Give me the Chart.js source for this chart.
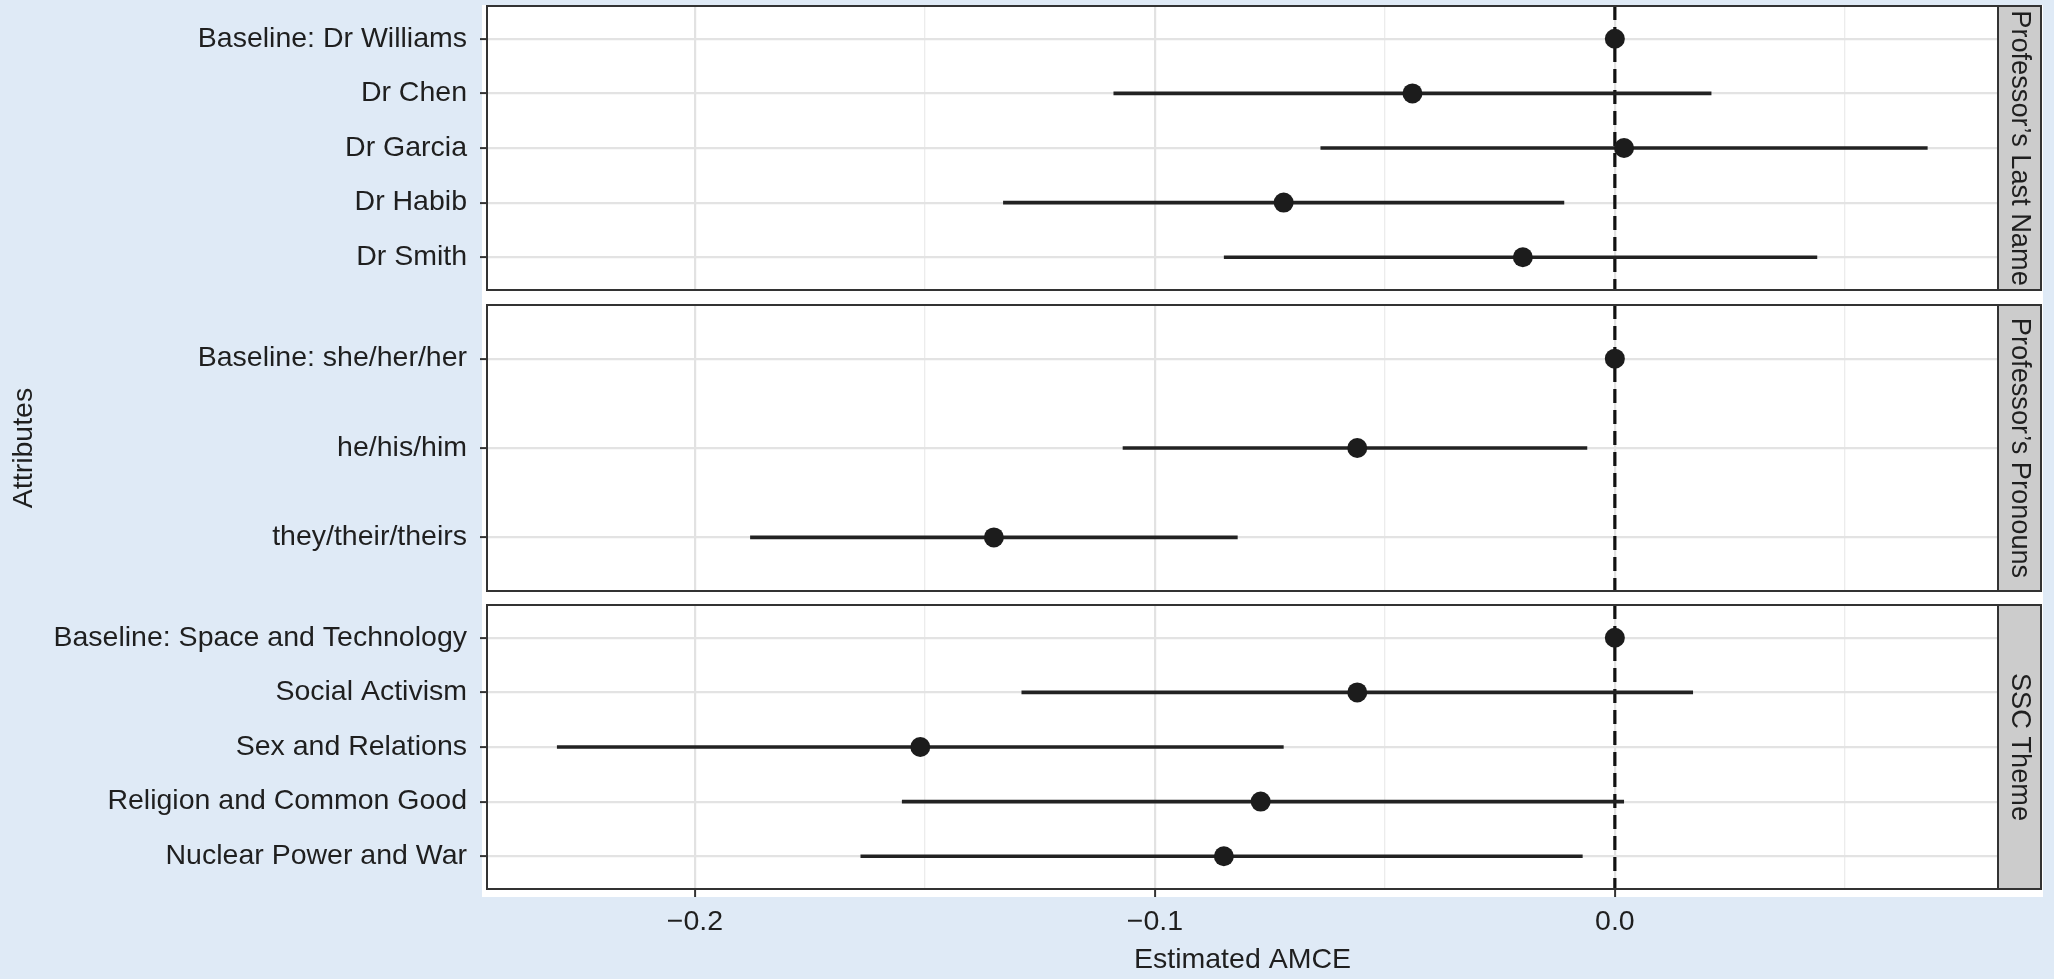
<!DOCTYPE html>
<html>
<head>
<meta charset="utf-8">
<title>Estimated AMCE by attribute</title>
<script src="https://cdn.jsdelivr.net/npm/chart.js@4.4.1/dist/chart.umd.min.js"></script>
<style>
  body { margin: 0; background: #dfeaf6; }
  #wrap { position: relative; width: 2054px; height: 979px; background: #dfeaf6; overflow: hidden; }
  #paper { position: absolute; left: 482px; top: 5px; width: 1561px; height: 892px; background: #fff; }
  canvas { position: absolute; left: 0; }
</style>
</head>
<body>
<div id="wrap">
  <div id="paper"></div>
  <canvas id="panelName" width="2054" height="300" style="top:0px"></canvas>
  <canvas id="panelPronoun" width="2054" height="300" style="top:300px"></canvas>
  <canvas id="panelTheme" width="2054" height="379" style="top:600px"></canvas>
</div>
<script>
// values
const nameLabels = ['Baseline: Dr Williams', 'Dr Chen', 'Dr Garcia', 'Dr Habib', 'Dr Smith'];
const nameEst = [0, -0.044, 0.002, -0.072, -0.020];
const nameLow = [null, -0.109, -0.064, -0.133, -0.085];
const nameHigh = [null, 0.021, 0.068, -0.011, 0.044];

const pronounLabels = ['Baseline: she/her/her', 'he/his/him', 'they/their/theirs'];
const pronounEst = [0, -0.056, -0.135];
const pronounLow = [null, -0.107, -0.188];
const pronounHigh = [null, -0.006, -0.082];

const themeLabels = ['Baseline: Space and Technology', 'Social Activism', 'Sex and Relations',
  'Religion and Common Good', 'Nuclear Power and War'];
const themeEst = [0, -0.056, -0.151, -0.077, -0.085];
const themeLow = [null, -0.129, -0.230, -0.155, -0.164];
const themeHigh = [null, 0.017, -0.072, 0.002, -0.007];

const stripTitles = ['Professor’s Last Name', 'Professor’s Pronouns', 'SSC Theme'];
const xMajor = [-0.2, -0.1, 0.0];
const xMinor = [-0.15, -0.05, 0.05];
const xMin = -0.2452;
const xMax = 0.0833;
const xTitle = 'Estimated AMCE';
const yTitle = 'Attributes';

const FONT = '"Liberation Sans", Arial, Helvetica, sans-serif';
const INK = '#1f1f1f';
Chart.defaults.font.family = FONT;
Chart.defaults.color = INK;

function fmtTick(v) {
    if (Math.abs(v) < 1e-9) return '0.0';
    return (v < 0 ? '\u2212' : '') + Math.abs(v).toFixed(1);
}
function isMajor(v) {
    return xMajor.some(m => Math.abs(m - v) < 1e-9);
}

// panel frame, strip on the right, dashed zero line
const facetPlugin = {
    id: 'facet',
    beforeDatasetsDraw(chart) {
        const { ctx, chartArea } = chart;
        const x0 = chart.scales.x.getPixelForValue(0);
        ctx.save();
        ctx.strokeStyle = '#111';
        ctx.lineWidth = 3.2;
        ctx.setLineDash([14, 7]);
        ctx.beginPath();
        ctx.moveTo(x0, chartArea.top);
        ctx.lineTo(x0, chartArea.bottom);
        ctx.stroke();
        ctx.restore();
    },
    afterDraw(chart, args, opts) {
        const { ctx, chartArea } = chart;
        const h = chartArea.bottom - chartArea.top;
        ctx.save();
        ctx.strokeStyle = '#333';
        ctx.lineWidth = 2;
        ctx.strokeRect(chartArea.left, chartArea.top, chartArea.right - chartArea.left, h);
        // strip
        const sx = chartArea.right;
        ctx.fillStyle = '#cccccc';
        ctx.fillRect(sx, chartArea.top, 43, h);
        ctx.strokeRect(sx, chartArea.top, 43, h);
        ctx.translate(sx + 22, chartArea.top + h / 2);
        ctx.rotate(Math.PI / 2);
        ctx.fillStyle = INK;
        ctx.font = '27.2px ' + FONT;
        ctx.textAlign = 'center';
        ctx.textBaseline = 'middle';
        ctx.fillText(opts.title, 0, 1);
        ctx.restore();
        if (opts.yTitle) {
            ctx.save();
            ctx.translate(24, chartArea.top + h / 2);
            ctx.rotate(-Math.PI / 2);
            ctx.fillStyle = INK;
            ctx.font = '28.5px ' + FONT;
            ctx.textAlign = 'center';
            ctx.textBaseline = 'middle';
            ctx.fillText(opts.yTitle, 0, 0);
            ctx.restore();
        }
    }
};

function makePanel(id, labels, est, low, high, strip, cfg) {
    const datasets = [{
        data: est.map((v, i) => ({ x: v, y: i })),
        pointRadius: 10,
        pointBackgroundColor: '#1c1c1c',
        pointBorderWidth: 0,
        order: 0
    }];
    labels.forEach((l, i) => {
        if (low[i] === null) return;
        datasets.push({
            data: [{ x: low[i], y: i }, { x: high[i], y: i }],
            showLine: true,
            borderColor: '#222',
            borderWidth: 3.6,
            pointRadius: 0,
            order: 1
        });
    });

    const bottom = cfg.bottomAxis;
    return new Chart(document.getElementById(id), {
        type: 'scatter',
        data: { datasets },
        plugins: [facetPlugin],
        options: {
            responsive: false,
            animation: false,
            devicePixelRatio: 1,
            events: [],
            layout: {
                autoPadding: false,
                padding: { left: 0, right: 56, top: cfg.padTop, bottom: cfg.padBottom }
            },
            plugins: {
                legend: { display: false },
                tooltip: { enabled: false },
                facet: { title: strip, yTitle: cfg.yTitle }
            },
            scales: {
                x: {
                    type: 'linear',
                    min: xMin,
                    max: xMax,
                    afterBuildTicks: s => {
                        s.ticks = xMajor.concat(xMinor).sort((a, b) => a - b).map(v => ({ value: v }));
                    },
                    afterFit: s => {
                        s.height = bottom ? 90 : 0;
                        s.paddingLeft = 0;
                        s.paddingRight = 0;
                    },
                    border: { display: false },
                    grid: {
                        color: c => isMajor(c.tick.value) ? '#e2e2e2' : '#ececec',
                        lineWidth: c => isMajor(c.tick.value) ? 2.2 : 1.3,
                        tickColor: c => isMajor(c.tick.value) ? '#333' : 'rgba(0,0,0,0)',
                        tickWidth: 2,
                        tickLength: 8,
                        drawTicks: bottom
                    },
                    ticks: {
                        display: bottom,
                        autoSkip: false,
                        maxRotation: 0,
                        padding: 8,
                        font: { size: 28.5 },
                        color: INK,
                        callback: v => isMajor(v) ? fmtTick(v) : ''
                    },
                    title: {
                        display: bottom,
                        text: xTitle,
                        font: { size: 28.5 },
                        color: INK,
                        padding: { top: 0, bottom: 2 }
                    }
                },
                y: {
                    type: 'linear',
                    reverse: true,
                    min: -0.6,
                    max: labels.length - 1 + 0.6,
                    afterBuildTicks: s => { s.ticks = labels.map((l, i) => ({ value: i })); },
                    afterFit: s => {
                        s.width = 487;
                        s.paddingTop = 0;
                        s.paddingBottom = 0;
                    },
                    border: { display: false },
                    grid: {
                        color: '#e3e3e3',
                        lineWidth: 2.2,
                        tickColor: '#333',
                        tickWidth: 2,
                        tickLength: 7
                    },
                    ticks: {
                        autoSkip: false,
                        padding: 13,
                        font: { size: 28.5 },
                        color: INK,
                        callback: v => labels[v]
                    }
                }
            }
        }
    });
}

makePanel('panelName', nameLabels, nameEst, nameLow, nameHigh, stripTitles[0],
    { bottomAxis: false, padTop: 6, padBottom: 10 });
makePanel('panelPronoun', pronounLabels, pronounEst, pronounLow, pronounHigh, stripTitles[1],
    { bottomAxis: false, padTop: 5, padBottom: 9, yTitle: yTitle });
makePanel('panelTheme', themeLabels, themeEst, themeLow, themeHigh, stripTitles[2],
    { bottomAxis: true, padTop: 5, padBottom: 0 });
</script>
</body>
</html>
